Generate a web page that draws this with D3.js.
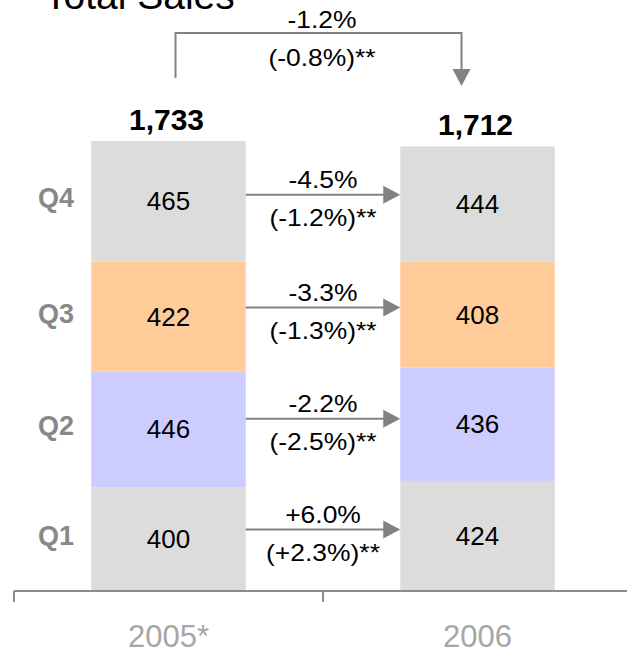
<!DOCTYPE html>
<html>
<head>
<meta charset="utf-8">
<script src="https://cdn.jsdelivr.net/npm/d3@7/dist/d3.min.js"></script>
<style>
  html, body { margin: 0; padding: 0; background: #fff; }
  svg { display: block; font-family: "Liberation Sans", Arial, sans-serif; }
</style>
</head>
<body>
<script>
// Quarterly sales, stacked bottom (Q1) to top (Q4)
const years = ["2005*", "2006"];
const quarters = ["Q1", "Q2", "Q3", "Q4"];
const sales2005 = [400, 446, 422, 465];
const sales2006 = [424, 436, 408, 444];
const quarterColors = ["#dcdcdc", "#ccccff", "#ffcc99", "#dcdcdc"];
// Year-on-year change per quarter, and change at constant scope (**)
const growth = ["+6.0%", "-2.2%", "-3.3%", "-4.5%"];
const adjGrowth = ["(+2.3%)**", "(-2.5%)**", "(-1.3%)**", "(-1.2%)**"];
const totalGrowth = "-1.2%";
const totalAdjGrowth = "(-0.8%)**";

const W = 627, H = 652;
const svg = d3.select("body").append("svg").attr("width", W).attr("height", H);

const x = d3.scaleBand().domain(years).range([14, 632]).paddingInner(0.5).paddingOuter(0.25);
const y = d3.scaleLinear().domain([0, 1733]).range([591, 141]);

const series = [sales2005, sales2006];
const stacked = series.map((vals, i) => {
  let acc = 0;
  return vals.map((v, q) => {
    const d = { year: years[i], q, y0: acc, y1: acc + v, v };
    acc += v;
    return d;
  });
});
const totals = series.map(vals => d3.sum(vals));

// Percentage labels are set slightly wide
function pctLabel(sel, px, py, str) {
  return sel.append("text")
    .attr("transform", `translate(${px},${py}) scale(1.15,1)`)
    .attr("text-anchor", "middle")
    .attr("font-size", 23).attr("fill", "#000").text(str);
}

// Title
svg.append("text").attr("x", 44).attr("y", 9)
  .attr("font-size", 39).attr("fill", "#000").text("Total Sales");

// Bars
stacked.forEach(segs => {
  svg.append("g").selectAll("rect").data(segs).join("rect")
    .attr("x", d => x(d.year))
    .attr("width", x.bandwidth())
    .attr("y", d => y(d.y1))
    .attr("height", d => y(d.y0) - y(d.y1))
    .attr("fill", d => quarterColors[d.q]);

  svg.append("g").selectAll("text").data(segs).join("text")
    .attr("x", d => x(d.year) + x.bandwidth() / 2)
    .attr("y", d => (y(d.y0) + y(d.y1)) / 2 + 9)
    .attr("text-anchor", "middle")
    .attr("font-size", 26).attr("fill", "#000")
    .text(d => d.v);
});

// Totals above bars
const fmt = d3.format(",");
svg.append("g").selectAll("text").data(totals).join("text")
  .attr("x", (d, i) => x(years[i]) + x.bandwidth() / 2 - 2)
  .attr("y", d => y(d) - 11)
  .attr("text-anchor", "middle")
  .attr("font-size", 30).attr("font-weight", "bold").attr("fill", "#000")
  .text(d => fmt(d));

// Quarter labels
svg.append("g").selectAll("text").data(stacked[0]).join("text")
  .attr("x", 56)
  .attr("y", d => (y(d.y0) + y(d.y1)) / 2 + 6)
  .attr("text-anchor", "middle")
  .attr("font-size", 27).attr("font-weight", "bold").attr("fill", "#888")
  .text(d => quarters[d.q]);

// Quarter-on-quarter arrows
const gray = "#828282";
const xL = x(years[0]) + x.bandwidth();
const xR = x(years[1]);
const xMid = (xL + xR) / 2;
quarters.forEach((q, i) => {
  const a = stacked[0][i], b = stacked[1][i];
  const ay = ((y(a.y0) + y(a.y1)) / 2 + (y(b.y0) + y(b.y1)) / 2) / 2 - 8;
  const g = svg.append("g");
  g.append("line").attr("x1", xL).attr("x2", xR - 14).attr("y1", ay).attr("y2", ay)
    .attr("stroke", gray).attr("stroke-width", 2);
  g.append("path").attr("d", `M${xR - 17},${ay - 9}L${xR},${ay}L${xR - 17},${ay + 9}Z`).attr("fill", gray);
  pctLabel(g, xMid, ay - 7, growth[i]);
  pctLabel(g, xMid, ay + 31, adjGrowth[i]);
});

// Total change bracket
const bx1 = x(years[0]) + x.bandwidth() / 2 + 7;
const bx2 = x(years[1]) + x.bandwidth() / 2 - 16;
const by = 33;
svg.append("path")
  .attr("d", `M${bx1},78V${by}H${bx2}V72`)
  .attr("fill", "none").attr("stroke", gray).attr("stroke-width", 2);
svg.append("path").attr("d", `M${bx2 - 9},69L${bx2 + 9},69L${bx2},86Z`).attr("fill", gray);
pctLabel(svg, 322, 28, totalGrowth);
pctLabel(svg, 322, 66, totalAdjGrowth);

// Category axis
const axis = svg.append("g").attr("transform", "translate(0,591)");
axis.append("line").attr("x1", 14).attr("x2", W).attr("y1", 0).attr("y2", 0)
  .attr("stroke", "#8c8c8c").attr("stroke-width", 2);
const bounds = [14, x.step() + 14, 2 * x.step() + 14];
axis.selectAll("line.tick").data(bounds).join("line").attr("class", "tick")
  .attr("x1", d => d).attr("x2", d => d).attr("y1", 0).attr("y2", 11)
  .attr("stroke", "#8c8c8c").attr("stroke-width", 2);
axis.selectAll("text").data(years).join("text")
  .attr("x", d => x(d) + x.bandwidth() / 2)
  .attr("y", 56)
  .attr("text-anchor", "middle")
  .attr("font-size", 31).attr("fill", "#a6a6a6")
  .text(d => d);
</script>
</body>
</html>
